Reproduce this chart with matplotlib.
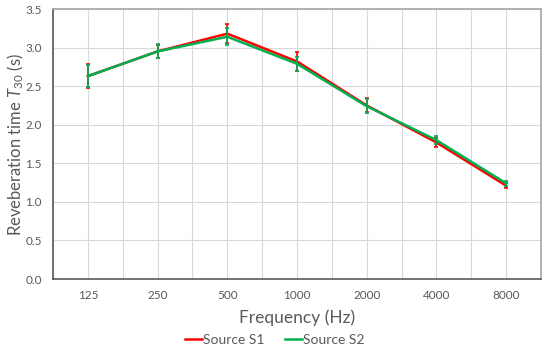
import matplotlib
matplotlib.use("Agg")
import matplotlib.pyplot as plt
from matplotlib.lines import Line2D
import numpy as np

# ---- DATA ----
freqs = ["125", "250", "500", "1000", "2000", "4000", "8000"]
s1 = [2.63, 2.95, 3.18, 2.82, 2.25, 1.77, 1.21]
s1_err = [0.16, 0.08, 0.12, 0.12, 0.09, 0.06, 0.03]
s2 = [2.63, 2.95, 3.14, 2.79, 2.24, 1.80, 1.24]
s2_err = [0.14, 0.09, 0.11, 0.09, 0.09, 0.05, 0.03]

plt.rcParams["font.family"] = ["Lato", "DejaVu Sans"]
plt.rcParams["mathtext.fontset"] = "custom"
plt.rcParams["mathtext.rm"] = "Lato"
plt.rcParams["mathtext.it"] = "Lato:italic"

fig = plt.figure(figsize=(5.5, 3.59), dpi=100)
ax = fig.add_axes([53 / 550, 1 - 279 / 359, (541 - 53) / 550, (279 - 9) / 359])

x = np.arange(len(freqs))
ax.errorbar(x, s1, yerr=s1_err, color="#ff0000", lw=1.8, capsize=1.5,
            elinewidth=1.2, capthick=1.2, zorder=3)
ax.errorbar(x, s2, yerr=s2_err, color="#00b050", lw=1.8, capsize=1.5,
            elinewidth=1.2, capthick=1.2, zorder=4)

ax.set_xlim(-0.5, len(freqs) - 0.5)
ax.set_ylim(0, 3.5)
yt = np.arange(0, 3.51, 0.5)
ax.set_yticks(yt)
ax.set_yticklabels([f"{v:.1f}" for v in yt])
ax.set_xticks(x)
ax.set_xticklabels(freqs)
ax.set_xticks(np.arange(-0.5, len(freqs), 1.0), minor=True)

ax.grid(True, which="both", color="#d9d9d9", lw=0.8)
ax.set_axisbelow(True)
ax.tick_params(which="both", length=0, colors="#595959", labelsize=8.5, pad=8)

for s in ["top", "right"]:
    ax.spines[s].set_color("#a6a6a6")
    ax.spines[s].set_linewidth(1.2)
for s in ["left", "bottom"]:
    ax.spines[s].set_color("#595959")
    ax.spines[s].set_linewidth(1.2)

ax.set_xlabel("Frequency (Hz)", fontsize=12.5, color="#595959", labelpad=6)
ax.set_ylabel("Reveberation time $\\mathit{T}_{30}$ (s)", fontsize=12,
              color="#595959")
ax.yaxis.set_label_coords(-27 / 488, 0.5)

handles = [Line2D([], [], color="#ff0000", lw=1.8),
           Line2D([], [], color="#00b050", lw=1.8)]
leg = fig.legend(handles, ["Source S1", "Source S2"], loc="center",
                 bbox_to_anchor=(0.5, 1 - 340 / 359), ncol=2, frameon=False,
                 fontsize=10, handlelength=1.2, handletextpad=0.1,
                 columnspacing=1.5)
for t in leg.get_texts():
    t.set_color("#595959")

fig.savefig("out.png", dpi=100)
